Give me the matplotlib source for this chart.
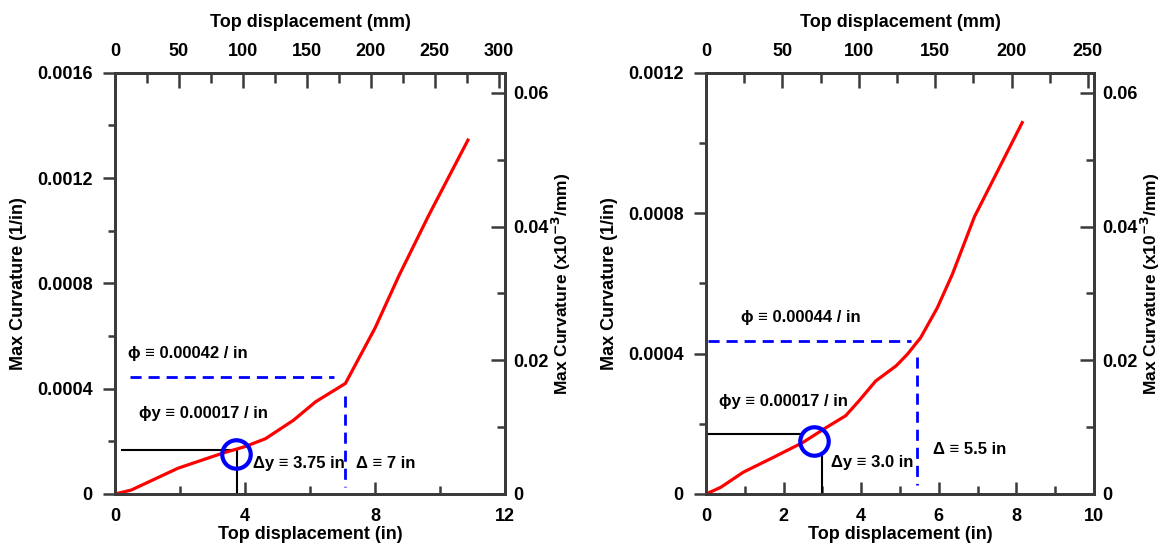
import matplotlib
matplotlib.use("Agg")
import matplotlib.pyplot as plt
from matplotlib.ticker import MultipleLocator, FixedLocator

plt.rcParams['font.family'] = ['Liberation Sans', 'DejaVu Sans']
plt.rcParams['font.weight'] = 'bold'
plt.rcParams['mathtext.default'] = 'bf'

# ---- data ----
left_disp_in = [0, 0.5, 1.94, 3.31, 4.0, 4.63, 5.49, 6.17, 7.09, 8.0, 8.74, 9.66, 10.86]
left_curv = [0, 0.000015, 0.000098, 0.000155, 0.00018, 0.00021, 0.00028, 0.00035, 0.00042,
             0.00063, 0.00083, 0.00106, 0.001344]
right_disp_in = [0, 0.38, 0.96, 1.73, 2.5, 3.08, 3.6, 3.94, 4.375, 4.9, 5.19, 5.53, 5.96, 6.35, 6.92, 8.15]
right_curv = [0, 0.000019, 0.000062, 0.000104, 0.000147, 0.000188, 0.000223, 0.000265, 0.000322,
              0.000365, 0.000398, 0.000445, 0.00053, 0.000626, 0.00079, 0.001058]

left_phi_text = "ϕ ≡ 0.00042 / in"
left_phiy_text = "ϕy ≡ 0.00017 / in"
left_dy_text = "Δy ≡ 3.75 in"
left_d_text = "Δ ≡ 7 in"
right_phi_text = "ϕ ≡ 0.00044 / in"
right_phiy_text = "ϕy ≡ 0.00017 / in"
right_dy_text = "Δy ≡ 3.0 in"
right_d_text = "Δ ≡ 5.5 in"

left_yield = (3.71, 0.000153)
right_yield = (2.79, 0.00015)

MM_PER_IN = 25.4
SPINE = '#3a3a3a'
FS_TICK = 13
FS_LAB = 13
FS_ANN = 12

fig = plt.figure(figsize=(11.64, 5.5), dpi=100)


def make_panel(rect, xmax, xmajor, xminor, ymax, ymajor, mm_max, mm_major):
    ax = fig.add_axes(rect)
    ax.set_xlim(0, xmax)
    ax.set_ylim(0, ymax)
    ax.xaxis.set_major_locator(MultipleLocator(xmajor))
    ax.xaxis.set_minor_locator(MultipleLocator(xminor))
    ax.yaxis.set_major_locator(MultipleLocator(ymajor))
    ax.yaxis.set_minor_locator(MultipleLocator(0.0002))
    ax.tick_params(axis='x', which='both', direction='in', width=1.8, colors=SPINE,
                   labelcolor='black', labelsize=FS_TICK, pad=10, top=False)
    ax.tick_params(axis='x', which='major', length=9)
    ax.tick_params(axis='x', which='minor', length=6)
    ax.tick_params(axis='y', which='both', direction='out', width=1.8, colors=SPINE,
                   labelcolor='black', labelsize=FS_TICK, right=False, pad=7)
    ax.tick_params(axis='y', which='major', length=9)
    ax.tick_params(axis='y', which='minor', length=5)
    ax.xaxis.set_major_formatter(plt.FuncFormatter(lambda v, p: f"{v:g}"))
    ax.yaxis.set_major_formatter(plt.FuncFormatter(lambda v, p: "0" if v == 0 else f"{v:.4f}"))
    for s in ax.spines.values():
        s.set_linewidth(2)
        s.set_color(SPINE)
    ax.set_xlabel("Top displacement (in)", fontsize=FS_LAB, fontweight='bold', labelpad=1)
    ax.set_ylabel("Max Curvature (1/in)", fontsize=FS_LAB, fontweight='bold', labelpad=7)

    top = ax.secondary_xaxis('top', functions=(lambda x: x * MM_PER_IN, lambda m: m / MM_PER_IN))
    top.xaxis.set_major_locator(FixedLocator(list(range(0, mm_max + 1, mm_major))))
    top.xaxis.set_minor_locator(MultipleLocator(mm_major / 2))
    top.tick_params(which='both', direction='in', width=1.8, colors=SPINE,
                    labelcolor='black', labelsize=FS_TICK, pad=9)
    top.tick_params(which='major', length=11)
    top.tick_params(which='minor', length=7)
    top.spines['top'].set_linewidth(2)
    top.spines['top'].set_color(SPINE)
    top.set_xlabel("Top displacement (mm)", fontsize=FS_LAB, fontweight='bold', labelpad=12)

    rt = ax.twinx()
    rt.set_ylim(0, 0.063)
    rt.yaxis.set_major_locator(MultipleLocator(0.02))
    rt.yaxis.set_minor_locator(MultipleLocator(0.01))
    rt.yaxis.set_major_formatter(plt.FuncFormatter(lambda v, p: "0" if v == 0 else f"{v:.2f}"))
    rt.tick_params(which='both', direction='in', width=1.8, colors=SPINE,
                   labelcolor='black', labelsize=FS_TICK, pad=6)
    rt.tick_params(which='major', length=10)
    rt.tick_params(which='minor', length=6)
    for s in rt.spines.values():
        s.set_linewidth(2)
        s.set_color(SPINE)
    rt.set_ylabel("Max Curvature (x10$^{-3}$/mm)", fontsize=12.5,
                  fontweight='bold', labelpad=1)
    return ax


axL = make_panel([115 / 1164, 1 - 494 / 550, 390 / 1164, 421.3 / 550], 12, 4, 2, 0.0016, 0.0004, 300, 50)
axR = make_panel([706 / 1164, 1 - 494 / 550, 388 / 1164, 421.3 / 550], 10, 2, 1, 0.0012, 0.0004, 250, 50)

DASH = (0, (4, 2.5))

# ---- left panel ----
axL.plot(left_disp_in, left_curv, color='red', lw=2.3, zorder=4)
axL.plot([0.46, 6.74], [0.000445, 0.000445], color='blue', lw=2, ls=DASH)
axL.plot([7.09, 7.09], [0.000372, 0.000028], color='blue', lw=2, ls=DASH)
axL.plot([0.23, 3.6], [0.000166, 0.000166], color='black', lw=1.5)
axL.plot([3.74, 3.74], [0.000166, 0.0], color='black', lw=1.5)
axL.plot([left_yield[0]], [left_yield[1]], marker='o', ms=20.5, mfc='none', mec='blue', mew=3, zorder=5)
axL.text(0.4, 0.000535, left_phi_text, fontsize=FS_ANN, fontweight='bold', va='center')
axL.text(0.74, 0.000304, left_phiy_text, fontsize=FS_ANN, fontweight='bold', va='center')
axL.text(4.26, 0.000117, left_dy_text, fontsize=FS_ANN, fontweight='bold', va='center')
axL.text(7.4, 0.000117, left_d_text, fontsize=FS_ANN, fontweight='bold', va='center')

# ---- right panel ----
axR.plot(right_disp_in, right_curv, color='red', lw=2.3, zorder=4)
axR.plot([0.05, 5.29], [0.000436, 0.000436], color='blue', lw=2, ls=DASH)
axR.plot([5.43, 5.43], [0.000389, 0.000027], color='blue', lw=2, ls=DASH)
axR.plot([0.0, 2.5], [0.000171, 0.000171], color='black', lw=1.5)
axR.plot([2.98, 2.98], [0.000114, 0.0], color='black', lw=1.5)
axR.plot([right_yield[0]], [right_yield[1]], marker='o', ms=20.5, mfc='none', mec='blue', mew=3, zorder=5)
axR.text(0.91, 0.000504, right_phi_text, fontsize=FS_ANN, fontweight='bold', va='center')
axR.text(0.34, 0.000263, right_phiy_text, fontsize=FS_ANN, fontweight='bold', va='center')
axR.text(3.22, 0.00009, right_dy_text, fontsize=FS_ANN, fontweight='bold', va='center')
axR.text(5.85, 0.000126, right_d_text, fontsize=FS_ANN, fontweight='bold', va='center')

fig.savefig("out.png", dpi=100)
